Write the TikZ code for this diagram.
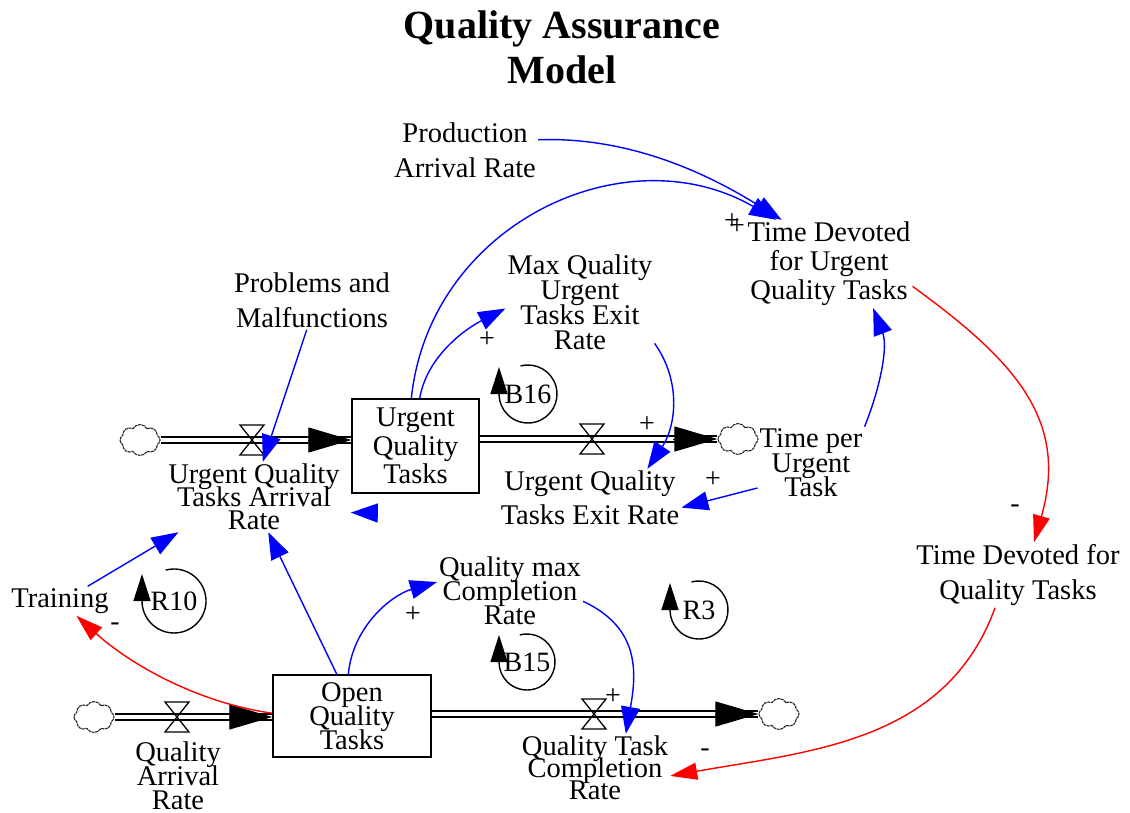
\documentclass[tikz,border=0pt]{standalone}
\usepackage{fontspec}
\setmainfont{Liberation Serif}
\usepackage{tikz}
\usetikzlibrary{arrows.meta, shapes.symbols, calc}
\definecolor{linkblue}{RGB}{0,0,255}
\definecolor{linkred}{RGB}{255,0,0}
\tikzset{
    qavar/.style={align=center, inner sep=2pt, font={\fontsize{28.5}{#1}\selectfont\lineskiplimit=-100pt}},
    qavar/.default=24,
    qastock/.style={draw, line width=1.4pt, align=center, inner sep=2pt, font={\fontsize{28.5}{#1}\selectfont\lineskiplimit=-100pt}},
    qastock/.default=24,
    qatitle/.style={align=center, font={\fontsize{40}{45}\selectfont\bfseries\lineskiplimit=-100pt}},
    qasign/.style={inner sep=0pt, font={\fontsize{28}{28}\selectfont}},
    qaloopname/.style={inner sep=0pt, font={\fontsize{28}{28}\selectfont}},
    qacloud/.style={cloud, cloud puffs=8, cloud puff arc=120, aspect=1.3, minimum width=40pt, minimum height=31pt, inner sep=0pt, draw=black!85, line width=1.1pt, dash pattern=on 3pt off 0.7pt},
    qapipe/.style={draw, double, double distance=4pt, line width=1.7pt},
    qaflowhead/.style={-{Triangle[length=43pt, width=25pt]}, line width=1pt},
    qavalve/.style={draw, line width=1.3pt, line join=miter},
    qalink/.style={-{Triangle[length=27pt, width=19pt]}, draw=linkblue, line width=1.4pt},
    qaneg/.style={-{Triangle[length=27pt, width=17pt]}, draw=linkred, line width=1.4pt},
    qaloop/.style={-{Triangle[length=27pt, width=17pt]}, line width=1.4pt}
}

\begin{document}
\begin{tikzpicture}[x=1pt, y=1pt]
\useasboundingbox (0,0) rectangle (1130,-812);

% title
\node[qatitle] (title) at (562,-47) {Quality Assurance\\Model};

% variables
\node[qavar=35] (prod) at (465,-150) {Production\\Arrival Rate};
\node[qavar=29] (tdu) at (829,-264) {Time Devoted\\for Urgent\\Quality Tasks};
\node[qavar=35] (prob) at (312,-300) {Problems and\\Malfunctions};
\node[qavar=25] (mqu) at (580,-302) {Max Quality\\Urgent\\Tasks Exit\\Rate};
\node[qavar=23] (uqar) at (254,-497) {Urgent Quality\\Tasks Arrival\\Rate};
\node[qavar=34] (uqer) at (590,-498) {Urgent Quality\\Tasks Exit Rate};
\node[qavar=24.5] (tpu) at (811,-463) {Time per\\Urgent\\Task};
\node[qavar=35] (tdq) at (1018,-575) {Time Devoted for\\Quality Tasks};
\node[qavar] (train) at (60,-601) {Training};
\node[qavar=24] (qmc) at (510,-591) {Quality max\\Completion\\Rate};
\node[qavar=24] (qar) at (178,-776) {Quality\\Arrival\\Rate};
\node[qavar=22] (qtc) at (595,-768) {Quality Task\\Completion\\Rate};

% stocks
\node[qastock=28.5, minimum width=127pt, minimum height=94pt] (uqt) at (415.5,-446) {Urgent\\Quality\\Tasks};
\node[qastock=24, minimum width=158pt, minimum height=82pt] (oqt) at (352,-716) {Open\\Quality\\Tasks};

% clouds
\node[qacloud] (c1) at (140,-440) {};
\node[qacloud] (c2) at (738,-439) {};
\node[qacloud] (c3) at (94,-717) {};
\node[qacloud] (c4) at (779,-714) {};

% flows
\coordinate (uqtin) at (c1 -| uqt.west);
\coordinate (uqtout) at (c2 -| uqt.east);
\coordinate (oqtin) at (c3 -| oqt.west);
\coordinate (oqtout) at (c4 -| oqt.east);
\draw[qapipe] (c1) -- (uqtin);
\draw[qapipe] (uqtout) -- (c2);
\draw[qapipe] (c3) -- (oqtin);
\draw[qapipe] (oqtout) -- (c4);
\draw[qaflowhead] ([xshift=-43pt]uqtin) -- (uqtin);
\draw[qaflowhead] ([xshift=-44pt]c2.west) -- (c2.west);
\draw[qaflowhead] ([xshift=-43pt]oqtin) -- (oqtin);
\draw[qaflowhead] ([xshift=-43pt]c4.west) -- (c4.west);

% valves
\coordinate (v1) at (252,-440);
\coordinate (v2) at (592,-439);
\coordinate (v3) at (177,-717);
\coordinate (v4) at (594,-714);
\draw[qavalve] (v1) ++(-12,15) -- ++(24,0) -- ++(-24,-30) -- ++(24,0) -- cycle;
\draw[qavalve] (v2) ++(-12,15) -- ++(24,0) -- ++(-24,-30) -- ++(24,0) -- cycle;
\draw[qavalve] (v3) ++(-12,15) -- ++(24,0) -- ++(-24,-30) -- ++(24,0) -- cycle;
\draw[qavalve] (v4) ++(-12,15) -- ++(24,0) -- ++(-24,-30) -- ++(24,0) -- cycle;

% causal links
\draw[qalink] (prod.8) to[out=2, in=148, looseness=0.9] (tdu.137);
\draw[qalink] (uqt.95) to[out=84, in=150, looseness=1.1] (tdu.140);
\draw[qalink] (uqt.85) to[out=80, in=-153, looseness=0.9] (mqu.185);
\draw[qalink] (mqu.-29) to[out=-55, in=56, looseness=1] (uqer.27);
\draw[qalink] (tpu.north east) to[out=68, in=-69, looseness=0.9] (tdu.-45);
\draw[qalink] (tpu.-155) -- (uqer.-6);
\draw[qalink] (prob.-100) -- (uqar.76);
\coordinate (uqarghost) at (377,-513);
\draw[qalink, shorten >=9pt] (uqarghost) -- (uqar.-10);
\draw[qalink] (train.28) -- (uqar.-155);
\draw[qalink] (oqt.110) -- (uqar.-68);
\draw[qalink] (oqt.95) to[out=85, in=-164, looseness=0.95] (qmc.173);
\draw[qalink] (qmc.-8) to[out=-25, in=80, looseness=1.15] (qtc.48);
\draw[qaneg] (tdu.-15) to[out=-36, in=74, looseness=1.15] (tdq.64);
\draw[qaneg] (tdq.-125) to[out=-110, in=10, looseness=1] (qtc.-6);
\draw[qaneg] (oqt.178) to[out=172, in=-42, looseness=0.87] (train.-42);

% polarities
\node[qasign] (ptdu1) at (732,-222) {+};
\node[qasign] (ptdu2) at (737,-227) {+};
\node[qasign] (pmqu) at (487,-340) {+};
\node[qasign] (puqer1) at (647,-425) {+};
\node[qasign] (puqer2) at (713,-480) {+};
\node[qasign] (ptdq) at (1015,-509) {-};
\node[qasign] (pqmc) at (413,-615) {+};
\node[qasign] (pqtc1) at (613,-697) {+};
\node[qasign] (pqtc2) at (705,-753) {-};
\node[qasign] (ptrain) at (115,-627) {-};

% loops
\node[qaloopname] (b16) at (528,-394) {B16};
\draw[qaloop] (b16.center) ++(105:29pt) arc[start angle=105, end angle=-180, radius=29pt] -- ++(0,27);
\node[qaloopname] (r10) at (174,-601) {R10};
\draw[qaloop] (r10.center) ++(105:32pt) arc[start angle=105, end angle=-180, radius=32pt] -- ++(0,27);
\node[qaloopname] (b15) at (527,-662) {B15};
\draw[qaloop] (b15.center) ++(105:28pt) arc[start angle=105, end angle=-180, radius=28pt] -- ++(0,27);
\node[qaloopname] (r3) at (699,-610) {R3};
\draw[qaloop] (r3.center) ++(105:29pt) arc[start angle=105, end angle=-180, radius=29pt] -- ++(0,27);

\end{tikzpicture}
\end{document}
